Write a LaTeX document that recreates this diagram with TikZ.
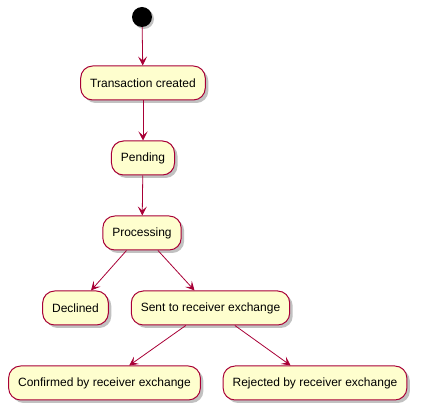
\documentclass[tikz,border=0pt]{standalone}
\usepackage{fontspec}
\setmainfont{Liberation Sans}
\usetikzlibrary{shapes.geometric, arrows.meta, positioning, shadows}

\definecolor{statefill}{HTML}{FEFECE}
\definecolor{stateline}{HTML}{A80036}

\begin{document}
\begin{tikzpicture}[x=1pt, y=-1pt,
    state/.style={rectangle, rounded corners=12pt, draw=stateline, line width=1pt,
        fill=statefill, minimum height=34pt, inner xsep=9.5pt,
        font=\fontsize{12}{14}\selectfont,
        drop shadow={shadow xshift=3pt, shadow yshift=-3pt, opacity=0.35, fill=black!70}},
    startstate/.style={circle, fill=black, minimum size=20pt, inner sep=0pt,
        drop shadow={shadow xshift=2pt, shadow yshift=-2pt, opacity=0.35, fill=black!70}},
    trans/.style={draw=stateline, line width=0.8pt,
        -{Stealth[length=9pt, width=9pt, inset=4pt]}}]
    % Page frame
    \useasboundingbox (0,0) rectangle (421,414);

    % States
    \node[startstate] (start) at (142,17) {};
    \node[state] (created) at (143,83) {Transaction created};
    \node[state] (pending) at (143,158) {Pending};
    \node[state] (processing) at (142,233) {Processing};
    \node[state] (declined) at (75.5,308) {Declined};
    \node[state] (sent) at (210.5,308) {Sent to receiver exchange};
    \node[state] (confirmed) at (104.5,383) {Confirmed by receiver exchange};
    \node[state] (rejected) at (315,383) {Rejected by receiver exchange};

    % Transitions
    \draw[trans] (start) -- (created);
    \draw[trans] (created) -- (pending);
    \draw[trans] (pending) -- (processing);
    \draw[trans] (processing) -- (declined);
    \draw[trans] (processing) -- (sent);
    \draw[trans] (sent) -- (confirmed);
    \draw[trans] (sent) -- (rejected);
\end{tikzpicture}
\end{document}
